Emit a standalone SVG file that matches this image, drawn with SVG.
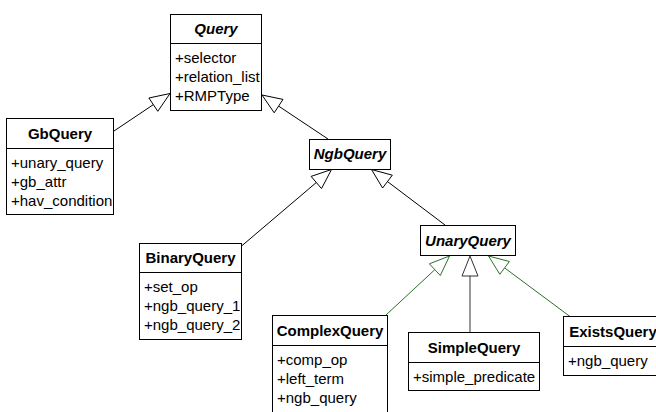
<svg xmlns="http://www.w3.org/2000/svg" width="656" height="412" viewBox="0 0 656 412">
<style>
.box{fill:#fff;stroke:#000;stroke-width:1}
.div{stroke:#000;stroke-width:1}
.t{font-family:"Liberation Sans",Arial,sans-serif;font-size:15px;font-weight:bold;text-anchor:middle;fill:#000}
.ti{font-style:italic}
.a{font-family:"Liberation Sans",Arial,sans-serif;font-size:15px;fill:#000}
.ln{stroke:#000;stroke-width:1;fill:none}
.hd{fill:#fff;stroke:#000;stroke-width:1}
.g{stroke:#2a6f2a}
.gr{stroke:#333}
</style>
<rect width="656" height="412" fill="#fff"/>
<g id="connectors">
  <line class="ln" x1="114" y1="131" x2="153.4" y2="104.6"/>
  <polygon class="hd" points="170,93.5 157.8,111.3 148.9,98"/>
  <line class="ln" x1="328" y1="139" x2="278.6" y2="106.1"/>
  <polygon class="hd" points="262,95 274.2,112.8 283,99.4"/>
  <line class="ln" x1="241" y1="246.5" x2="316.3" y2="182.5"/>
  <polygon class="hd" points="331.5,169.5 321.5,188.6 311.1,176.4"/>
  <line class="ln" x1="445" y1="225" x2="387.5" y2="181.6"/>
  <polygon class="hd" points="371.5,169.5 382.6,188 392.3,175.2"/>
  <line class="ln g" x1="386" y1="315" x2="434.9" y2="269.6"/>
  <polygon class="hd g" points="449.5,256 440.3,275.5 429.4,263.8"/>
  <line class="ln gr" x1="470" y1="276" x2="470" y2="332"/>
  <polygon class="hd gr" points="470,256 462,276 478,276"/>
  <line class="ln g" x1="570" y1="316.5" x2="504.6" y2="267.9"/>
  <polygon class="hd g" points="488.5,256 499.8,274.3 509.4,261.5"/>
</g>
<g id="Query">
  <rect class="box" x="170.5" y="14.5" width="91" height="96"/>
  <line class="div" x1="170.5" y1="43.5" x2="261.5" y2="43.5"/>
  <text class="t ti" x="216" y="34">Query</text>
  <text class="a" x="175" y="63">+selector</text>
  <text class="a" x="175" y="82">+relation_list</text>
  <text class="a" x="175" y="101">+RMPType</text>
</g>
<g id="GbQuery">
  <rect class="box" x="6.5" y="118.5" width="107" height="96"/>
  <line class="div" x1="6.5" y1="148.5" x2="113.5" y2="148.5"/>
  <text class="t" x="60" y="139">GbQuery</text>
  <text class="a" x="11" y="168">+unary_query</text>
  <text class="a" x="11" y="187">+gb_attr</text>
  <text class="a" x="11" y="206">+hav_condition</text>
</g>
<g id="NgbQuery">
  <rect class="box" x="309.5" y="139.5" width="81" height="30"/>
  <text class="t ti" x="350" y="159">NgbQuery</text>
</g>
<g id="BinaryQuery">
  <rect class="box" x="139.5" y="243.5" width="102" height="96"/>
  <line class="div" x1="139.5" y1="272.5" x2="241.5" y2="272.5"/>
  <text class="t" x="190.5" y="263">BinaryQuery</text>
  <text class="a" x="144" y="292">+set_op</text>
  <text class="a" x="144" y="311">+ngb_query_1</text>
  <text class="a" x="144" y="330">+ngb_query_2</text>
</g>
<g id="UnaryQuery">
  <rect class="box" x="420.5" y="225.5" width="95" height="30"/>
  <text class="t ti" x="468" y="245.5">UnaryQuery</text>
</g>
<g id="ComplexQuery">
  <rect class="box" x="272.5" y="315.5" width="115" height="100"/>
  <line class="div" x1="272.5" y1="345.5" x2="387.5" y2="345.5"/>
  <text class="t" x="330" y="336">ComplexQuery</text>
  <text class="a" x="277" y="365">+comp_op</text>
  <text class="a" x="277" y="384">+left_term</text>
  <text class="a" x="277" y="403">+ngb_query</text>
</g>
<g id="SimpleQuery">
  <rect class="box" x="408.5" y="332.5" width="131" height="58"/>
  <line class="div" x1="408.5" y1="362.5" x2="539.5" y2="362.5"/>
  <text class="t" x="474" y="353">SimpleQuery</text>
  <text class="a" x="413" y="382">+simple_predicate</text>
</g>
<g id="ExistsQuery">
  <rect class="box" x="563.5" y="316.5" width="99" height="59"/>
  <line class="div" x1="563.5" y1="346.5" x2="662.5" y2="346.5"/>
  <text class="t" x="613" y="337">ExistsQuery</text>
  <text class="a" x="568" y="366">+ngb_query</text>
</g>
</svg>
